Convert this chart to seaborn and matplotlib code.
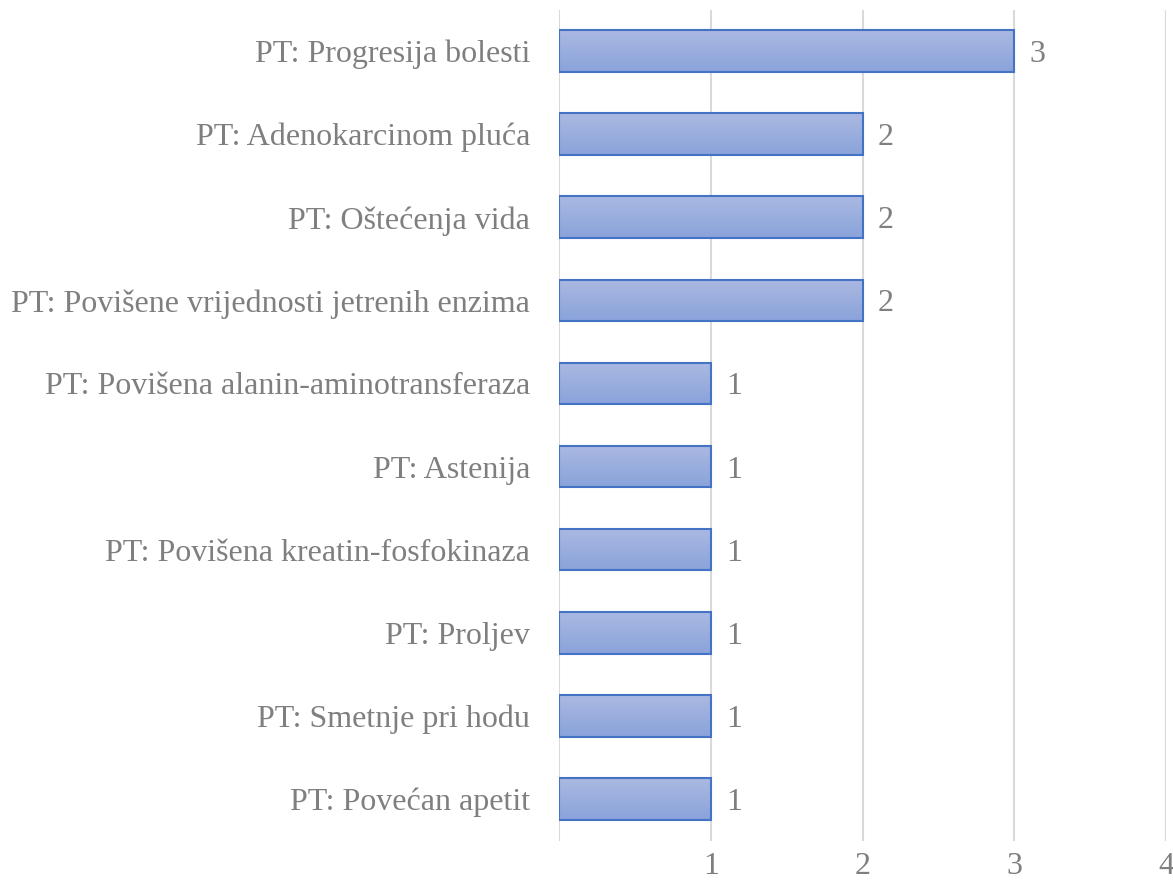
import matplotlib
matplotlib.use("Agg")
import matplotlib.pyplot as plt
import seaborn as sns
import numpy as np
import pandas as pd
from matplotlib.colors import LinearSegmentedColormap

categories = [
    "PT: Progresija bolesti",
    "PT: Adenokarcinom pluća",
    "PT: Oštećenja vida",
    "PT: Povišene vrijednosti jetrenih enzima",
    "PT: Povišena alanin-aminotransferaza",
    "PT: Astenija",
    "PT: Povišena kreatin-fosfokinaza",
    "PT: Proljev",
    "PT: Smetnje pri hodu",
    "PT: Povećan apetit",
]
values = [3, 2, 2, 2, 1, 1, 1, 1, 1, 1]
xticks = [1, 2, 3, 4]

df = pd.DataFrame({"cat": categories, "val": values})

sns.set_theme(style="white")
plt.rcParams["font.family"] = ["Liberation Serif", "DejaVu Serif"]

fig = plt.figure(figsize=(11.73, 8.9), dpi=100)
ax = fig.add_axes([0.4766, 0.0556, 0.994 - 0.4766, 0.9893 - 0.0556])

sns.barplot(data=df, x="val", y="cat", orient="h", ax=ax, width=0.5,
            color="#99ade0", edgecolor="#4472c4", linewidth=1.5, zorder=3)

cmap = LinearSegmentedColormap.from_list("g", ["#aab9e2", "#8aa3da"])
grad = np.linspace(0, 1, 256).reshape(-1, 1)
for p in list(ax.patches):
    x0, y0 = p.get_x(), p.get_y()
    w, h = p.get_width(), p.get_height()
    im = ax.imshow(grad, cmap=cmap, aspect="auto",
                   extent=[x0, x0 + w, y0 + h, y0], origin="upper",
                   zorder=3.5)
    im.set_clip_path(p)
    p.set_facecolor("none")
    p.set_zorder(4)

for i, v in enumerate(values):
    ax.text(v + 0.1, i, str(v), va="center_baseline", ha="left",
            fontsize=23, color="#7f7f7f")

ax.set_xlim(0, 4)
ax.set_ylim(len(categories) - 0.5, -0.5)
ax.set_xticks(xticks)
ax.set_xticklabels([str(t) for t in xticks])
ax.xaxis.grid(True, color="#d9d9d9", linewidth=1.5, zorder=0)
ax.axvline(0, color="#d9d9d9", linewidth=1.5, zorder=0)
ax.set_axisbelow(True)
for s in ax.spines.values():
    s.set_visible(False)
ax.set_xlabel("")
ax.set_ylabel("")
ax.tick_params(axis="x", length=0, pad=8, labelsize=23, labelcolor="#7f7f7f")
ax.tick_params(axis="y", length=0, pad=21, labelsize=23, labelcolor="#7f7f7f")

fig.savefig("out.png", dpi=100)
